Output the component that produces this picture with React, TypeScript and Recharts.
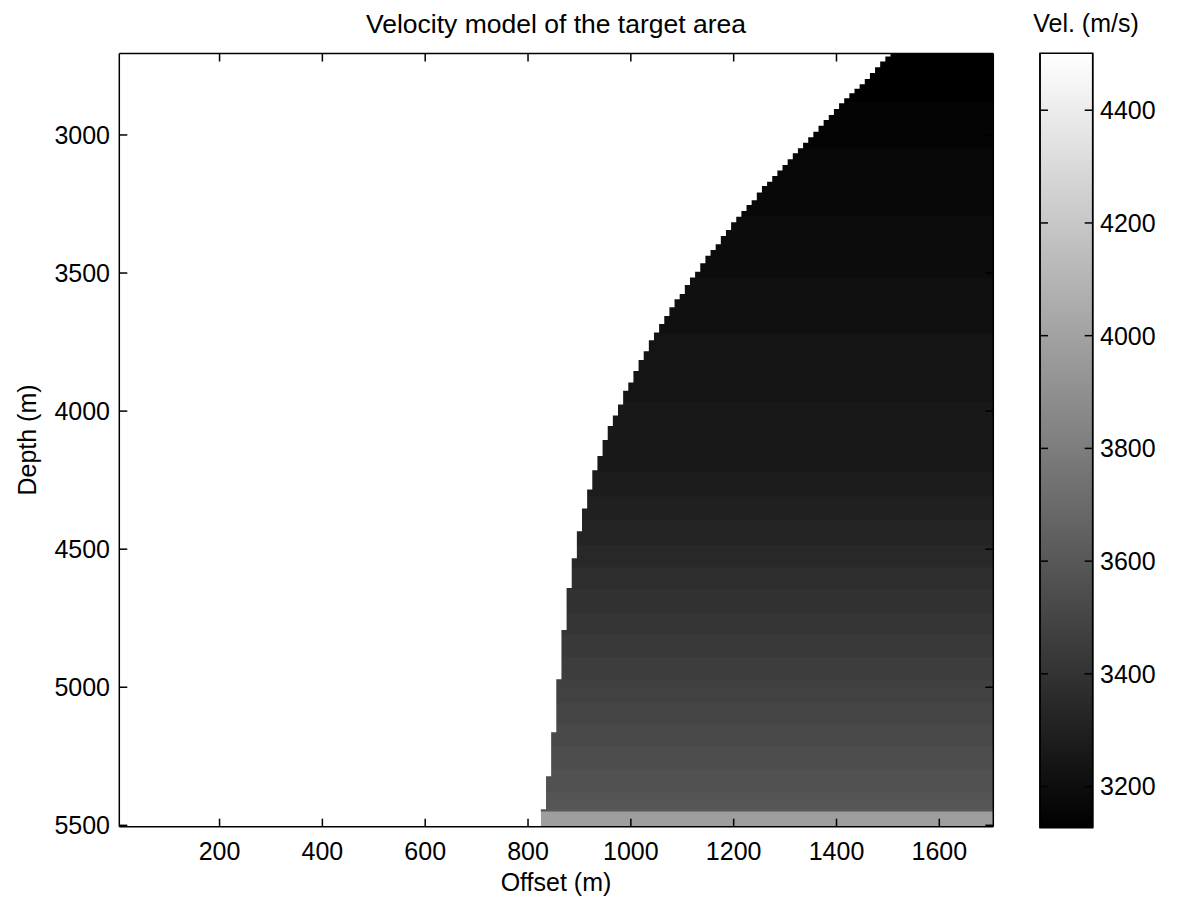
import React from "react";
import { ComposedChart, XAxis, YAxis, ReferenceArea } from "recharts";

// axes
const offsetDomain = [5, 1705];
const depthDomain = [2705, 5505];
const offsetTicks = [200, 400, 600, 800, 1000, 1200, 1400, 1600];
const depthTicks = [3000, 3500, 4000, 4500, 5000, 5500];
const velDomain = [3127, 4501];
const velTicks = [3200, 3400, 3600, 3800, 4000, 4200, 4400];

// salt flank: left edge of each 10 m column (m) and depth where the sediment starts (m)
const columnLeft = [
  825, 835, 845, 855, 865, 875, 885, 895, 905, 915, 925, 935, 945, 955, 965, 975, 985, 995,
  1005, 1015, 1025, 1035, 1045, 1055, 1065, 1075, 1085, 1095, 1105, 1115, 1125, 1135, 1145,
  1155, 1165, 1175, 1185, 1195, 1205, 1215, 1225, 1235, 1245, 1255, 1265, 1275, 1285, 1295,
  1305, 1315, 1325, 1335, 1345, 1355, 1365, 1375, 1385, 1395, 1405, 1415, 1425, 1435, 1445,
  1455, 1465, 1475, 1485, 1495,
];
const columnTop = [
  5442, 5322, 5163, 4971, 4793, 4641, 4533, 4435, 4353, 4284, 4214, 4163, 4105, 4054, 4016,
  3976, 3926, 3896, 3855, 3815, 3783, 3743, 3715, 3685, 3656, 3624, 3595, 3576, 3543, 3516,
  3495, 3465, 3437, 3417, 3396, 3366, 3344, 3316, 3296, 3275, 3254, 3236, 3208, 3185, 3169,
  3149, 3129, 3109, 3088, 3066, 3048, 3028, 3008, 2988, 2967, 2946, 2928, 2906, 2885, 2867,
  2849, 2833, 2816, 2797, 2776, 2755, 2734, 2716,
];

// sediment velocity bands: top depth (m) and velocity (m/s)
const bandTop = [
  2705, 2880, 3050, 3295, 3520, 3720, 3965, 4220, 4310, 4395, 4485, 4565, 4645, 4730, 4810,
  4890, 4975, 5055, 5135, 5215, 5300, 5380, 5440,
];
const bandVel = [
  3138, 3160, 3181, 3203, 3224, 3245, 3267, 3288, 3310, 3331, 3353, 3374, 3396, 3417, 3439,
  3460, 3481, 3503, 3524, 3546, 3567, 3589, 3610,
];

const saltEdge = 825;
const saltVel = 4500;
const baseLayerTop = 5450;
const baseLayerVel = 3975;

const FONT = "'Liberation Sans', Arial, Helvetica, sans-serif";
const FS = 25;
const TICK = 8;

// matlab gray(64)
function grayOf(v: number) {
  let k = Math.floor(((v - velDomain[0]) / (velDomain[1] - velDomain[0])) * 64);
  k = Math.max(0, Math.min(63, k));
  const g = Math.round((255 * k) / 63);
  return `rgb(${g},${g},${g})`;
}

const axisLine = { stroke: "#000", strokeWidth: 1.5 };

// matlab style ticks: mark points into the axes, label outside
function makeTick(side: "bottom" | "top" | "left" | "right", showLabel: boolean) {
  return (p: any) => {
    const { x, y, payload } = p;
    const ln = { stroke: "#000", strokeWidth: 1.5 };
    let line: React.ReactNode = null;
    let text: React.ReactNode = null;
    const tp = { fill: "#000", fontSize: FS, fontFamily: FONT };
    if (side === "bottom") {
      line = <line x1={x} x2={x} y1={y} y2={y - TICK} {...ln} />;
      if (showLabel)
        text = (
          <text x={x} y={y + 16} dy="0.71em" textAnchor="middle" {...tp}>
            {payload.value}
          </text>
        );
    } else if (side === "top") {
      line = <line x1={x} x2={x} y1={y} y2={y + TICK} {...ln} />;
    } else if (side === "left") {
      line = <line x1={x} x2={x + TICK} y1={y} y2={y} {...ln} />;
      if (showLabel)
        text = (
          <text x={x - 9.3} y={y} dy="0.355em" textAnchor="end" {...tp}>
            {payload.value}
          </text>
        );
    } else {
      line = <line x1={x - TICK} x2={x} y1={y} y2={y} {...ln} />;
      if (showLabel)
        text = (
          <text x={x + 7.3} y={y} dy="0.355em" textAnchor="start" {...tp}>
            {payload.value}
          </text>
        );
    }
    return (
      <g>
        {line}
        {text}
      </g>
    );
  };
}

const W = 1000;
const H = 901;
const mainMargin = { top: 53.5, right: 6.7, bottom: 14.3, left: 0 };

// image layer (axes only used for their scales)
function VelocityImage() {
  const white = grayOf(saltVel);
  return (
    <ComposedChart width={W} height={H} margin={mainMargin}>
      {bandTop.map((d, i) => (
        <ReferenceArea
          key={"band" + i}
          x1={saltEdge}
          x2={offsetDomain[1]}
          y1={d}
          y2={baseLayerTop}
          fill={grayOf(bandVel[i])}
          fillOpacity={1}
          stroke="none"
        />
      ))}
      <ReferenceArea
        x1={saltEdge}
        x2={offsetDomain[1]}
        y1={baseLayerTop}
        y2={depthDomain[1]}
        fill={grayOf(baseLayerVel)}
        fillOpacity={1}
        stroke="none"
      />
      {columnLeft.map((x, i) => (
        <ReferenceArea
          key={"salt" + i}
          x1={offsetDomain[0]}
          x2={x + 10}
          y1={depthDomain[0]}
          y2={columnTop[i]}
          fill={white}
          fillOpacity={1}
          stroke="none"
        />
      ))}
      <ReferenceArea
        x1={offsetDomain[0]}
        x2={saltEdge}
        y1={depthDomain[0]}
        y2={depthDomain[1]}
        fill={white}
        fillOpacity={1}
        stroke="none"
      />
      <XAxis
        dataKey="x"
        type="number"
        domain={offsetDomain}
        allowDataOverflow
        ticks={offsetTicks}
        height={60}
        axisLine={false}
        tickLine={false}
        tick={false}
      />
      <YAxis
        dataKey="y"
        type="number"
        domain={depthDomain}
        allowDataOverflow
        reversed
        ticks={depthTicks}
        width={119.3}
        axisLine={false}
        tickLine={false}
        tick={false}
      />
    </ComposedChart>
  );
}

// box, inward ticks and tick labels drawn over the image
function VelocityAxes() {
  return (
    <ComposedChart
      width={W}
      height={H}
      margin={{ ...mainMargin, top: mainMargin.top - 1, right: mainMargin.right - 1 }}
    >
      <XAxis
        dataKey="x"
        type="number"
        domain={offsetDomain}
        allowDataOverflow
        ticks={offsetTicks}
        interval={0}
        height={60}
        tickSize={0}
        tickMargin={0}
        axisLine={axisLine}
        tickLine={false}
        tick={makeTick("bottom", true)}
      />
      <XAxis
        xAxisId="top"
        dataKey="x"
        orientation="top"
        type="number"
        domain={offsetDomain}
        allowDataOverflow
        ticks={offsetTicks}
        interval={0}
        height={1}
        tickSize={0}
        tickMargin={0}
        axisLine={axisLine}
        tickLine={false}
        tick={makeTick("top", false)}
      />
      <YAxis
        dataKey="y"
        type="number"
        domain={depthDomain}
        allowDataOverflow
        reversed
        ticks={depthTicks}
        interval={0}
        width={119.3}
        tickSize={0}
        tickMargin={0}
        axisLine={axisLine}
        tickLine={false}
        tick={makeTick("left", true)}
      />
      <YAxis
        yAxisId="right"
        dataKey="y"
        orientation="right"
        type="number"
        domain={depthDomain}
        allowDataOverflow
        reversed
        ticks={depthTicks}
        interval={0}
        width={1}
        tickSize={0}
        tickMargin={0}
        axisLine={axisLine}
        tickLine={false}
        tick={makeTick("right", false)}
      />
    </ComposedChart>
  );
}

const CW = 178;
const cbMargin = { top: 53.3, right: 25.3, bottom: 73.3, left: 40 };

function ColorBarImage() {
  return (
    <ComposedChart width={CW} height={H} margin={cbMargin}>
      <defs>
        <linearGradient id="velBar" x1="0" y1="1" x2="0" y2="0">
          <stop offset="0%" stopColor="#000" />
          <stop offset="100%" stopColor="#fff" />
        </linearGradient>
      </defs>
      <XAxis dataKey="x" type="number" domain={[0, 1]} allowDataOverflow hide />
      <ReferenceArea
        x1={0}
        x2={1}
        y1={velDomain[0]}
        y2={velDomain[1]}
        fill="url(#velBar)"
        fillOpacity={1}
        stroke="#000"
        strokeWidth={1.5}
      />
      <YAxis
        dataKey="v"
        orientation="right"
        type="number"
        domain={velDomain}
        allowDataOverflow
        ticks={velTicks}
        width={60}
        axisLine={false}
        tickLine={false}
        tick={false}
      />
    </ComposedChart>
  );
}

function ColorBarAxes() {
  return (
    <ComposedChart width={CW} height={H} margin={{ ...cbMargin, left: cbMargin.left - 1 }}>
      <XAxis dataKey="x" type="number" domain={[0, 1]} allowDataOverflow hide />
      <YAxis
        dataKey="v"
        type="number"
        domain={velDomain}
        allowDataOverflow
        ticks={velTicks}
        interval={0}
        width={1}
        tickSize={0}
        tickMargin={0}
        axisLine={axisLine}
        tickLine={false}
        tick={makeTick("left", false)}
      />
      <YAxis
        yAxisId="right"
        dataKey="v"
        orientation="right"
        type="number"
        domain={velDomain}
        allowDataOverflow
        ticks={velTicks}
        interval={0}
        width={60}
        tickSize={0}
        tickMargin={0}
        axisLine={axisLine}
        tickLine={false}
        tick={makeTick("right", true)}
      />
    </ComposedChart>
  );
}

const label: React.CSSProperties = {
  position: "absolute",
  fontFamily: FONT,
  fontSize: FS,
  color: "#000",
  whiteSpace: "nowrap",
  lineHeight: 1,
};

const layer: React.CSSProperties = { position: "absolute", top: 0 };

export default function App() {
  return (
    <div
      style={{
        position: "absolute",
        left: 0,
        top: 0,
        width: 1178,
        height: 901,
        background: "#fff",
        overflow: "hidden",
      }}
    >
      <div style={{ ...layer, left: 0 }}>
        <VelocityImage />
      </div>
      <div style={{ ...layer, left: 0 }}>
        <VelocityAxes />
      </div>
      <div style={{ ...layer, left: W }}>
        <ColorBarImage />
      </div>
      <div style={{ ...layer, left: W }}>
        <ColorBarAxes />
      </div>
      <div
        style={{ ...label, fontSize: 26.5, left: 556, top: 11, transform: "translateX(-50%)" }}
      >
        Velocity model of the target area
      </div>
      <div style={{ ...label, left: 1086, top: 11, transform: "translateX(-50%)" }}>
        Vel. (m/s)
      </div>
      <div style={{ ...label, left: 556, top: 870, transform: "translateX(-50%)" }}>
        Offset (m)
      </div>
      <div
        style={{
          ...label,
          left: 27,
          top: 440,
          transform: "translate(-50%, -50%) rotate(-90deg)",
        }}
      >
        Depth (m)
      </div>
    </div>
  );
}
